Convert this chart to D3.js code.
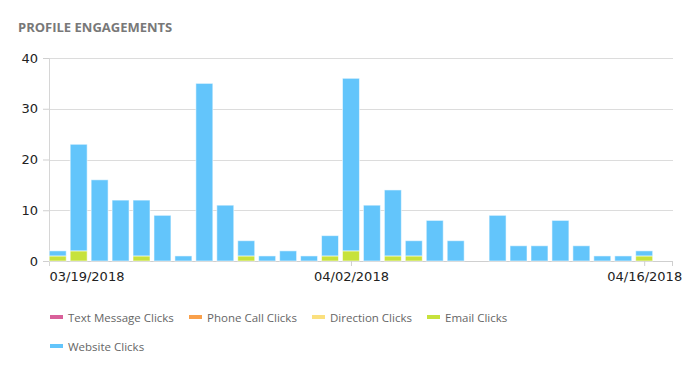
<!DOCTYPE html>
<html>
<head>
<meta charset="utf-8">
<script src="https://cdn.jsdelivr.net/npm/d3@7"></script>
<style>
  body { margin: 0; background: #fff; }
  svg { display: block; }
</style>
</head>
<body>
<div id="chart"></div>
<script>
const width = 700
const height = 377
const margin = { top: 58, right: 27, bottom: 116, left: 49 }

// one entry per day, 03/19/2018 .. 04/16/2018
const days = d3.timeDays(new Date(2018, 2, 19), new Date(2018, 3, 17))
const textMessage = days.map(() => 0)
const phoneCall = days.map(() => 0)
const direction = days.map(() => 0)
const email =   [1, 2, 0, 0, 1, 0, 0, 0, 0, 1, 0, 0, 0, 1, 2, 0, 1, 1, 0, 0, 0, 0, 0, 0, 0, 0, 0, 0, 1]
const website = [1, 21, 16, 12, 11, 9, 1, 35, 11, 3, 1, 2, 1, 4, 34, 11, 13, 3, 8, 4, 0, 9, 3, 3, 8, 3, 1, 1, 1]
const seriesNames = ["Text Message Clicks", "Phone Call Clicks", "Direction Clicks", "Email Clicks", "Website Clicks"]
const seriesColors = ["#d9609a", "#f9a04b", "#fbe07e", "#c7e23c", "#63c5fb"]
const yTicks = [0, 10, 20, 30, 40]
const xTickDates = [new Date(2018, 2, 19), new Date(2018, 3, 2), new Date(2018, 3, 16)]

const rows = days.map((d, i) => ({
  date: d,
  "Text Message Clicks": textMessage[i],
  "Phone Call Clicks": phoneCall[i],
  "Direction Clicks": direction[i],
  "Email Clicks": email[i],
  "Website Clicks": website[i]
}))

const chartW = width - margin.left - margin.right
const chartH = height - margin.top - margin.bottom

let svg = d3.select("#chart").append("svg")
    .attr("width", width)
    .attr("height", height)

svg.append("text")
    .attr("x", 18).attr("y", 32)
    .attr("font-family", "Open Sans")
    .attr("font-weight", 700)
    .attr("font-size", 13)
    .attr("fill", "#787878")
    .text("PROFILE ENGAGEMENTS")

let g = svg.append("g").attr("transform", `translate(${margin.left},${margin.top})`)

const x = d3.scaleTime()
    .domain([d3.timeHour.offset(days[0], -10), d3.timeHour.offset(days[days.length - 1], 33.5)])
    .range([0, chartW])
const dayW = x(days[1]) - x(days[0])
const barW = dayW * 0.81

const y = d3.scaleLinear().domain([0, 40]).range([chartH, 0])

// grid
g.append("g")
    .selectAll("line")
    .data(yTicks)
    .join("line")
    .attr("x1", 0).attr("x2", chartW)
    .attr("y1", d => Math.round(y(d)) + 0.5).attr("y2", d => Math.round(y(d)) + 0.5)
    .attr("stroke", d => d == 0 ? "#cfcfcf" : "#dcdcdc")

// y axis
let yAxis = d3.axisLeft(y).tickValues(yTicks).tickSize(6).tickPadding(5)
let yG = g.append("g").call(yAxis)
yG.select(".domain").remove()
yG.selectAll(".tick line").attr("stroke", "#cfcfcf")
yG.selectAll("text")
    .attr("font-family", "DejaVu Sans")
    .attr("font-size", 13)
    .attr("fill", "#222")
g.append("line")
    .attr("x1", 0.5).attr("x2", 0.5)
    .attr("y1", 0).attr("y2", chartH + 5)
    .attr("stroke", "#d6d6d6")

// stacked bars
const stack = d3.stack().keys(seriesNames)
const layers = stack(rows)

g.append("g")
    .selectAll("g")
    .data(layers)
    .join("g")
    .attr("fill", (d, i) => seriesColors[i])
    .selectAll("rect")
    .data(d => d.filter(p => p[1] > p[0]))
    .join("rect")
    .attr("x", d => x(d.data.date) - barW / 2)
    .attr("y", d => y(d[1]))
    .attr("width", barW)
    .attr("height", d => y(d[0]) - y(d[1]))
    .attr("stroke", "rgba(255,255,255,0.55)")
    .attr("stroke-width", 1)

// x axis
let xAxis = d3.axisBottom(x).tickValues(xTickDates).tickFormat(d3.timeFormat("%m/%d/%Y")).tickSize(5).tickPadding(6)
let xG = g.append("g").attr("transform", `translate(0,${chartH})`).call(xAxis)
xG.select(".domain").remove()
xG.selectAll(".tick line").attr("stroke", "#cfcfcf")
xG.selectAll(".tick").filter((d, i) => i == 0).select("line").remove()
xG.selectAll("text")
    .attr("font-family", "DejaVu Sans")
    .attr("font-size", 13)
    .attr("fill", "#222")
xG.selectAll(".tick").filter((d, i) => i == 0).select("text")
    .attr("text-anchor", "start")
    .attr("x", -x(xTickDates[0]))
g.append("line")
    .attr("x1", chartW - 0.5).attr("x2", chartW - 0.5)
    .attr("y1", chartH).attr("y2", chartH + 5)
    .attr("stroke", "#cfcfcf")

// legend
const legendPos = [[50, 317], [189, 317], [312, 317], [427, 317], [50, 346]]
let legend = svg.append("g")
    .selectAll("g")
    .data(seriesNames)
    .join("g")
    .attr("transform", (d, i) => `translate(${legendPos[i][0]},${legendPos[i][1]})`)
legend.append("rect")
    .attr("x", 0).attr("y", -2)
    .attr("width", 13).attr("height", 4)
    .attr("fill", (d, i) => seriesColors[i])
legend.append("text")
    .attr("x", 18).attr("y", 4.5)
    .attr("font-family", "Open Sans")
    .attr("font-size", 11.5)
    .attr("fill", "#666")
    .text(d => d)
</script>
</body>
</html>
